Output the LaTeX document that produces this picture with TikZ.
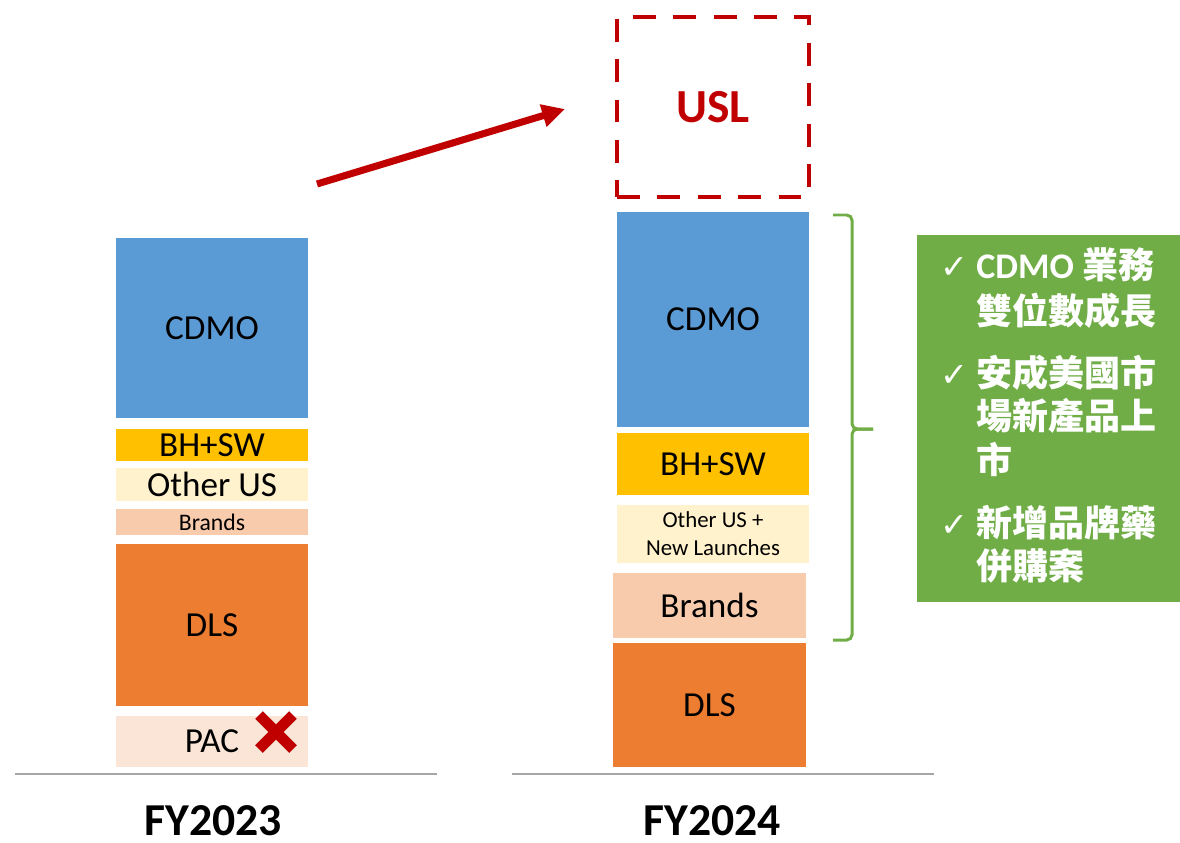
\documentclass[tikz,border=0pt]{standalone}
\usepackage{fontspec}
\setmainfont{Carlito}
\newfontfamily\cjk{Noto Sans CJK TC}
\newfontfamily\symb{DejaVu Sans}
\usetikzlibrary{arrows.meta}
\definecolor{cdmoblue}{HTML}{5B9BD5}
\definecolor{bhsw}{HTML}{FFC000}
\definecolor{otherus}{HTML}{FFF2CC}
\definecolor{brands}{HTML}{F8CBAD}
\definecolor{dls}{HTML}{ED7D31}
\definecolor{pac}{HTML}{FBE5D6}
\definecolor{darkred}{HTML}{C00000}
\definecolor{leafgreen}{HTML}{70AD47}
\begin{document}
\begin{tikzpicture}[x=0.02cm, y=-0.02cm,
    seg/.style n args={2}{minimum width=#1*0.02cm, minimum height=#2*0.02cm,
        inner sep=0pt, font=\fontsize{20}{22}\selectfont},
    yearlabel/.style={inner sep=0.5pt, font=\fontsize{26}{28}\selectfont\bfseries},
    axisline/.style={gray!70, line width=0.9pt},
    notetext/.style={anchor=base west, inner sep=0pt, text=white,
        font=\fontsize{20.5}{24}\selectfont\bfseries\cjk},
    tick/.style={anchor=base west, inner sep=0pt, text=white,
        font=\fontsize{19}{22}\selectfont\symb}]
    \useasboundingbox (0,0) rectangle (1180,842);
    % 左柱 FY2023
    \node[seg={192}{180}, fill=cdmoblue] (cdmoL) at (212,328) {CDMO};
    \node[seg={192}{32}, fill=bhsw] (bhswL) at (212,445) {BH+SW};
    \node[seg={192}{33}, fill=otherus] (otherL) at (212,484.5) {Other US};
    \node[seg={192}{26}, fill=brands, font=\fontsize{13.5}{15}\selectfont] (brandsL) at (212,522) {Brands};
    \node[seg={192}{162}, fill=dls] (dlsL) at (212,625) {DLS};
    \node[seg={192}{51}, fill=pac] (pacL) at (212,741.5) {PAC};
    % 红叉
    \draw[darkred, line width=6.2pt] (259,715) -- (293,749) (259,749) -- (293,715);
    % 右柱 FY2024
    \node[seg={192}{215}, fill=cdmoblue] (cdmoR) at (713,319.5) {CDMO};
    \node[seg={192}{62}, fill=bhsw] (bhswR) at (713,464) {BH+SW};
    \node[seg={192}{58}, fill=otherus, align=center, font=\fontsize{13}{16}\selectfont] (otherR) at (713,534) {Other US +\\New Launches};
    \node[seg={193}{65}, fill=brands] (brandsR) at (709.5,605.5) {Brands};
    \node[seg={193}{124}, fill=dls] (dlsR) at (709.5,705) {DLS};
    % USL 虚线框
    \node[draw=darkred, line width=2.8pt, dash pattern=on 13pt off 10pt,
        minimum width=192*0.02cm, minimum height=180*0.02cm, text=darkred,
        font=\fontsize{27}{29}\selectfont\bfseries] (usl) at (713,107) {USL};
    % 箭头
    \coordinate (arrS) at (317,184);
    \coordinate (arrE) at (565,109);
    \draw[darkred, line width=4pt, -{Triangle[length=13pt, width=12.5pt]}] (arrS) -- (arrE);
    % 底线与年份
    \draw[axisline] (15,774) -- (437,774);
    \draw[axisline] (512,774) -- (934,774);
    \node[yearlabel] (fyL) at (213,821) {FY2023};
    \node[yearlabel] (fyR) at (712,821) {FY2024};
    % 右括号
    \draw[leafgreen, line width=1.7pt, rounded corners=3pt] (833,215) -| (852,429) -- (873,429);
    \draw[leafgreen, line width=1.7pt, rounded corners=3pt] (833,640) -| (852,429) -- (873,429);
    % 绿色说明框
    \node[fill=leafgreen, minimum width=263*0.02cm, minimum height=367*0.02cm, inner sep=0pt] (note) at (1048.5,418.5) {};
    \node[tick] (ck1) at (940,278) {✓};
    \node[notetext] (n1) at (976,278) {{\rmfamily CDMO} 業務};
    \node[notetext] (n2) at (976,324) {雙位數成長};
    \node[tick] (ck2) at (940,386) {✓};
    \node[notetext] (n3) at (976,386) {安成美國市};
    \node[notetext] (n4) at (976,429) {場新產品上};
    \node[notetext] (n5) at (976,473) {市};
    \node[tick] (ck3) at (940,536) {✓};
    \node[notetext] (n6) at (976,536) {新增品牌藥};
    \node[notetext] (n7) at (976,579) {併購案};
\end{tikzpicture}
\end{document}
